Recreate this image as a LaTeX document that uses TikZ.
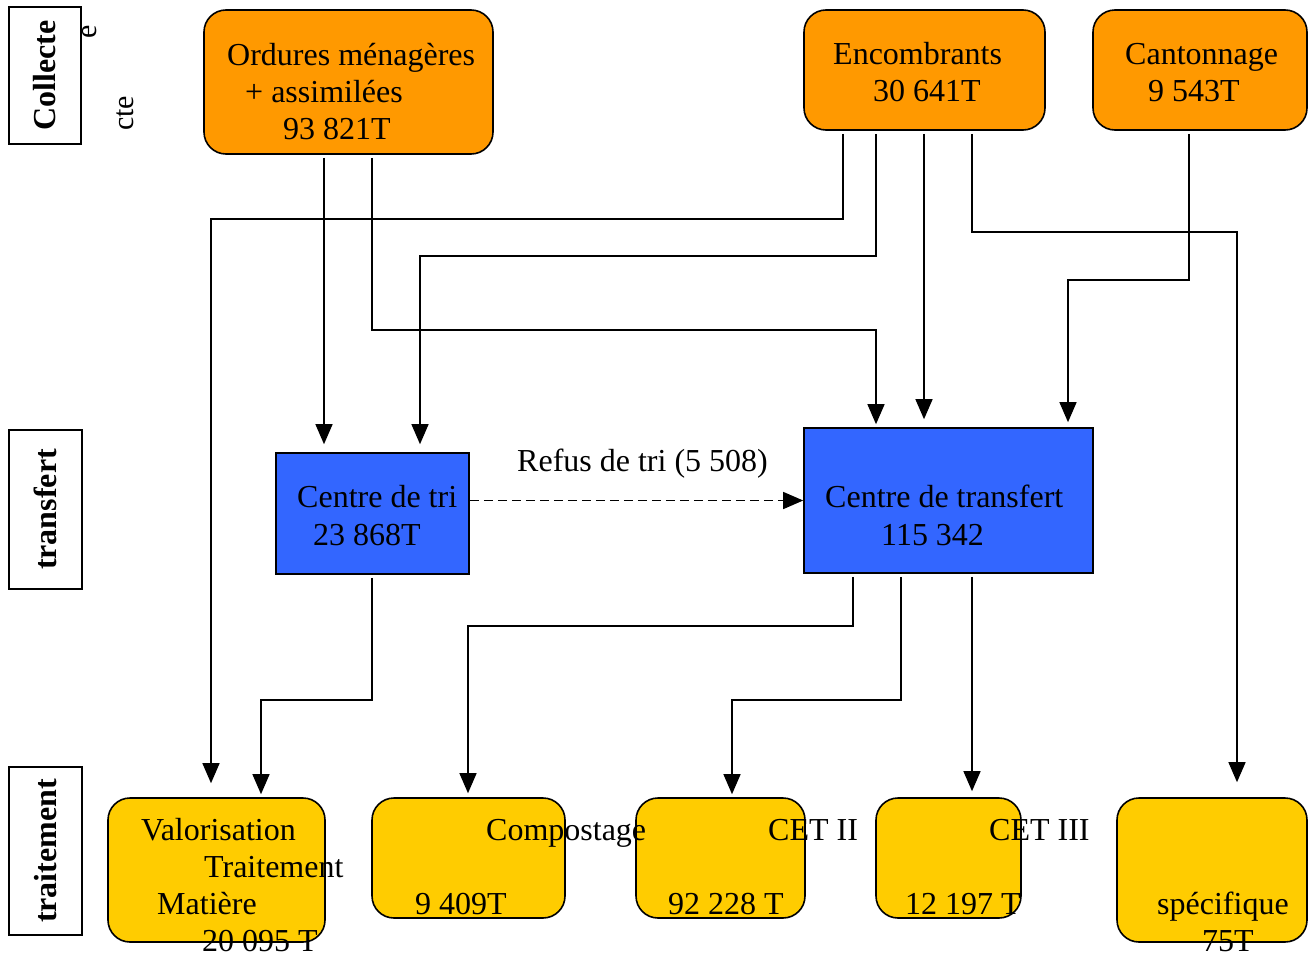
\documentclass[tikz,border=0pt]{standalone}
\usepackage{fontspec}
\setmainfont{Liberation Serif}
\usetikzlibrary{arrows.meta}
\definecolor{orangebox}{HTML}{FF9900}
\definecolor{bluebox}{HTML}{3366FF}
\definecolor{yellowbox}{HTML}{FFCC00}
\begin{document}
\begin{tikzpicture}[x=1pt,y=-1pt,
  box/.style={draw=black, line width=1.6pt, inner sep=0pt},
  rbox/.style={box, rounded corners=22pt},
  txt/.style={anchor=base west, inner sep=0pt, font=\fontsize{32}{37}\selectfont},
  sidelab/.style={draw=black, line width=1.5pt, rotate=90, inner sep=0pt, font=\fontsize{32}{37}\selectfont\bfseries},
  stray/.style={rotate=90, inner sep=0pt, font=\fontsize{30}{36}\selectfont},
  conn/.style={line width=1.3pt, -{Triangle[length=20pt,width=17pt]}, shorten <=3pt}
]
\useasboundingbox (0,0) rectangle (1308,953);

% side labels
\node[sidelab, minimum width=137pt, minimum height=72pt] (lcol) at (45,75.5) {Collecte};
\node[sidelab, minimum width=159pt, minimum height=73pt] (ltra) at (45.5,509.5) {transfert};
\node[sidelab, minimum width=168pt, minimum height=73pt] (ltrt) at (45.5,851) {traitement};
\node[stray] (se) at (89.5,31.5) {e};
\node[stray] (scte) at (125.5,113.5) {cte};

% collecte boxes
\node[rbox, fill=orangebox, minimum width=289pt, minimum height=144pt] (om) at (348.5,82) {};
\node[rbox, fill=orangebox, minimum width=241pt, minimum height=120pt] (enc) at (924.5,70) {};
\node[rbox, fill=orangebox, minimum width=214pt, minimum height=120pt] (can) at (1200,70) {};

% transfert boxes
\node[box, fill=bluebox, minimum width=193pt, minimum height=121pt] (ct) at (372.5,513.5) {};
\node[box, fill=bluebox, minimum width=289pt, minimum height=145pt] (ctr) at (948.5,500.5) {};

% traitement boxes
\node[rbox, fill=yellowbox, minimum width=217pt, minimum height=144pt] (val) at (216.5,870) {};
\node[rbox, fill=yellowbox, minimum width=193pt, minimum height=120pt] (comp) at (468.5,858) {};
\node[rbox, fill=yellowbox, minimum width=169pt, minimum height=120pt] (cet2) at (720.5,858) {};
\node[rbox, fill=yellowbox, minimum width=145pt, minimum height=120pt] (cet3) at (948.5,858) {};
\node[rbox, fill=yellowbox, minimum width=190pt, minimum height=144pt] (spec) at (1212,870) {};

% connectors
\draw[conn, shorten >=8pt] (324,0 |- om.south) -- (324,0 |- ct.north);
\draw[conn, shorten >=3pt] (372,0 |- om.south) |- (876,330) -- (876,0 |- ctr.north);
\draw[conn, shorten >=14pt] (843,0 |- enc.south) |- (211,219) -- (211,0 |- val.north);
\draw[conn, shorten >=8pt] (876,0 |- enc.south) |- (420,256) -- (420,0 |- ct.north);
\draw[conn, shorten >=8pt] (924,0 |- enc.south) -- (924,0 |- ctr.north);
\draw[conn, shorten >=15pt] (972,0 |- enc.south) |- (1237,232) -- (1237,0 |- spec.north);
\draw[conn, shorten >=5pt] (1189,0 |- can.south) |- (1068,280) -- (1068,0 |- ctr.north);
\draw[conn, shorten <=0pt, dash pattern=on 9pt off 5pt] (ct.east |- ctr.west) -- (ctr.west);
\draw[conn, shorten >=3pt] (372,0 |- ct.south) |- (261,700) -- (261,0 |- val.north);
\draw[conn, shorten >=4pt] (853,0 |- ctr.south) |- (468,626) -- (468,0 |- comp.north);
\draw[conn, shorten >=3pt] (901,0 |- ctr.south) |- (732,700) -- (732,0 |- cet2.north);
\draw[conn, shorten >=6pt] (972,0 |- ctr.south) -- (972,0 |- cet3.north);

% texts
\node[txt] (t1) at (227,65) {Ordures ménagères};
\node[txt] (t2) at (245,102) {+ assimilées};
\node[txt] (t3) at (283,139) {93 821T};
\node[txt] (t4) at (833,64) {Encombrants};
\node[txt] (t5) at (873,101) {30 641T};
\node[txt] (t6) at (1125,64) {Cantonnage};
\node[txt] (t7) at (1148,101) {9 543T};
\node[txt] (t8) at (297,507) {Centre de tri};
\node[txt] (t9) at (313,545) {23 868T};
\node[txt] (t10) at (517,471) {Refus de tri (5 508)};
\node[txt] (t11) at (825,507) {Centre de transfert};
\node[txt] (t12) at (881,545) {115 342};
\node[txt] (t13) at (141,840) {Valorisation};
\node[txt] (t14) at (204,877) {Traitement};
\node[txt] (t15) at (157,914) {Matière};
\node[txt] (t16) at (202,951) {20 095 T};
\node[txt] (t17) at (486,840) {Compostage};
\node[txt] (t18) at (415,914) {9 409T};
\node[txt] (t19) at (768,840) {CET II};
\node[txt] (t20) at (668,914) {92 228 T};
\node[txt] (t21) at (989,840) {CET III};
\node[txt] (t22) at (905,914) {12 197 T};
\node[txt] (t23) at (1157,914) {spécifique};
\node[txt] (t24) at (1202,951) {75T};
\end{tikzpicture}
\end{document}
